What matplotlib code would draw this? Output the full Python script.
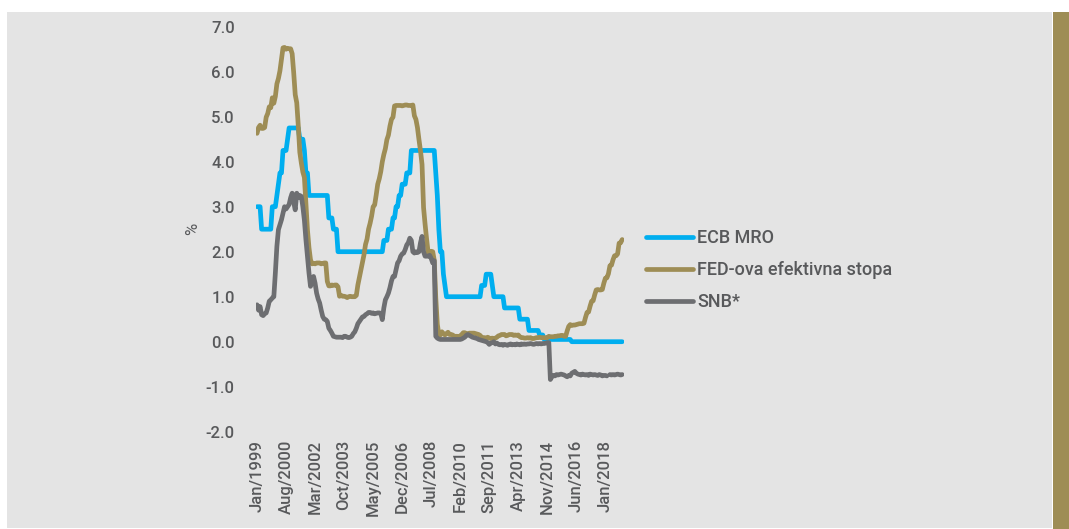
import numpy as np
import matplotlib.pyplot as plt
from matplotlib.patches import Rectangle

# mjesecni podaci, sijecanj 1999 - prosinac 2018
ecb_mro = [
    3.0, 3.0, 3.0, 2.5, 2.5, 2.5, 2.5, 2.5, 2.5, 2.5, 3.0, 3.0,          # 1999
    3.0, 3.25, 3.5, 3.75, 3.75, 4.25, 4.25, 4.25, 4.5, 4.75, 4.75, 4.75,  # 2000
    4.75, 4.75, 4.75, 4.75, 4.5, 4.5, 4.5, 4.25, 3.75, 3.75, 3.25, 3.25,  # 2001
    3.25, 3.25, 3.25, 3.25, 3.25, 3.25, 3.25, 3.25, 3.25, 3.25, 3.25, 2.75,  # 2002
    2.75, 2.75, 2.5, 2.5, 2.5, 2.0, 2.0, 2.0, 2.0, 2.0, 2.0, 2.0,       # 2003
    2.0, 2.0, 2.0, 2.0, 2.0, 2.0, 2.0, 2.0, 2.0, 2.0, 2.0, 2.0,         # 2004
    2.0, 2.0, 2.0, 2.0, 2.0, 2.0, 2.0, 2.0, 2.0, 2.0, 2.0, 2.25,        # 2005
    2.25, 2.25, 2.5, 2.5, 2.5, 2.75, 2.75, 3.0, 3.0, 3.25, 3.25, 3.5,   # 2006
    3.5, 3.5, 3.75, 3.75, 3.75, 4.25, 4.25, 4.25, 4.25, 4.25, 4.25, 4.25,  # 2007
    4.25, 4.25, 4.25, 4.25, 4.25, 4.25, 4.25, 4.25, 4.25, 3.75, 3.25, 2.5,  # 2008
    2.0, 2.0, 1.5, 1.25, 1.0, 1.0, 1.0, 1.0, 1.0, 1.0, 1.0, 1.0,        # 2009
    1.0, 1.0, 1.0, 1.0, 1.0, 1.0, 1.0, 1.0, 1.0, 1.0, 1.0, 1.0,         # 2010
    1.0, 1.0, 1.0, 1.25, 1.25, 1.25, 1.5, 1.5, 1.5, 1.5, 1.25, 1.0,     # 2011
    1.0, 1.0, 1.0, 1.0, 1.0, 1.0, 0.75, 0.75, 0.75, 0.75, 0.75, 0.75,   # 2012
    0.75, 0.75, 0.75, 0.75, 0.5, 0.5, 0.5, 0.5, 0.5, 0.5, 0.25, 0.25,   # 2013
    0.25, 0.25, 0.25, 0.25, 0.25, 0.15, 0.15, 0.15, 0.05, 0.05, 0.05, 0.05,  # 2014
    0.05, 0.05, 0.05, 0.05, 0.05, 0.05, 0.05, 0.05, 0.05, 0.05, 0.05, 0.05,  # 2015
    0.05, 0.05, 0.0, 0.0, 0.0, 0.0, 0.0, 0.0, 0.0, 0.0, 0.0, 0.0,       # 2016
    0.0, 0.0, 0.0, 0.0, 0.0, 0.0, 0.0, 0.0, 0.0, 0.0, 0.0, 0.0,         # 2017
    0.0, 0.0, 0.0, 0.0, 0.0, 0.0, 0.0, 0.0, 0.0, 0.0, 0.0, 0.0,         # 2018
]

fed_stopa = [
    4.63, 4.76, 4.81, 4.74, 4.74, 4.76, 4.99, 5.07, 5.22, 5.20, 5.42, 5.30,
    5.45, 5.73, 5.85, 6.02, 6.27, 6.53, 6.54, 6.50, 6.52, 6.51, 6.51, 6.40,
    5.98, 5.49, 5.31, 4.80, 4.21, 3.97, 3.77, 3.65, 3.07, 2.49, 2.09, 1.82,
    1.73, 1.74, 1.73, 1.75, 1.75, 1.75, 1.73, 1.74, 1.75, 1.75, 1.34, 1.24,
    1.24, 1.26, 1.25, 1.26, 1.26, 1.22, 1.01, 1.03, 1.01, 1.01, 1.00, 0.98,
    1.00, 1.01, 1.00, 1.00, 1.00, 1.03, 1.26, 1.43, 1.61, 1.76, 1.93, 2.16,
    2.28, 2.50, 2.63, 2.79, 3.00, 3.04, 3.26, 3.50, 3.62, 3.78, 4.00, 4.16,
    4.29, 4.49, 4.59, 4.79, 4.94, 4.99, 5.24, 5.25, 5.25, 5.25, 5.25, 5.24,
    5.25, 5.26, 5.26, 5.25, 5.25, 5.25, 5.26, 5.02, 4.94, 4.76, 4.49, 4.24,
    3.94, 2.98, 2.61, 2.28, 1.98, 2.00, 2.01, 2.00, 1.81, 0.97, 0.39, 0.16,
    0.15, 0.22, 0.18, 0.15, 0.18, 0.21, 0.16, 0.16, 0.15, 0.12, 0.12, 0.12,
    0.11, 0.13, 0.16, 0.20, 0.20, 0.18, 0.18, 0.19, 0.19, 0.19, 0.19, 0.18,
    0.17, 0.16, 0.14, 0.10, 0.09, 0.09, 0.07, 0.10, 0.08, 0.07, 0.08, 0.07,
    0.08, 0.10, 0.13, 0.14, 0.16, 0.16, 0.16, 0.13, 0.14, 0.16, 0.16, 0.16,
    0.14, 0.15, 0.14, 0.15, 0.11, 0.09, 0.09, 0.08, 0.08, 0.09, 0.08, 0.09,
    0.07, 0.07, 0.08, 0.09, 0.09, 0.10, 0.09, 0.09, 0.09, 0.09, 0.09, 0.12,
    0.11, 0.11, 0.11, 0.12, 0.12, 0.13, 0.13, 0.14, 0.14, 0.12, 0.12, 0.24,
    0.34, 0.38, 0.36, 0.37, 0.37, 0.38, 0.39, 0.40, 0.40, 0.40, 0.41, 0.54,
    0.65, 0.66, 0.79, 0.90, 0.91, 1.04, 1.15, 1.16, 1.15, 1.15, 1.16, 1.30,
    1.41, 1.42, 1.51, 1.69, 1.70, 1.82, 1.91, 1.91, 1.95, 2.19, 2.20, 2.27,
]

snb = [
    0.82, 0.70, 0.78, 0.60, 0.58, 0.62, 0.64, 0.75, 0.90, 0.93, 0.97, 1.00,
    1.53, 2.12, 2.49, 2.60, 2.71, 2.85, 3.00, 2.95, 3.00, 3.05, 3.20, 3.30,
    3.10, 2.93, 3.30, 3.20, 3.25, 3.23, 3.00, 2.70, 2.27, 1.90, 1.53, 1.23,
    1.40, 1.45, 1.30, 1.08, 0.95, 0.86, 0.70, 0.56, 0.50, 0.49, 0.45, 0.30,
    0.25, 0.19, 0.12, 0.11, 0.10, 0.10, 0.10, 0.10, 0.09, 0.12, 0.12, 0.10,
    0.09, 0.10, 0.12, 0.18, 0.22, 0.30, 0.40, 0.45, 0.50, 0.55, 0.56, 0.60,
    0.62, 0.65, 0.65, 0.63, 0.64, 0.62, 0.63, 0.64, 0.64, 0.63, 0.49, 0.75,
    0.93, 1.00, 1.08, 1.20, 1.35, 1.45, 1.45, 1.60, 1.75, 1.80, 1.90, 1.95,
    1.97, 2.05, 2.15, 2.20, 2.30, 2.25, 2.00, 1.97, 2.00, 1.98, 2.00, 2.20,
    2.34, 2.00, 1.90, 1.90, 1.90, 1.92, 1.85, 1.75, 1.80, 0.12, 0.08, 0.06,
    0.05, 0.05, 0.05, 0.05, 0.05, 0.05, 0.05, 0.05, 0.05, 0.05, 0.05, 0.05,
    0.05, 0.05, 0.06, 0.08, 0.10, 0.14, 0.16, 0.14, 0.12, 0.10, 0.09, 0.08,
    0.07, 0.05, 0.04, 0.03, 0.02, 0.01, 0.00, -0.02, -0.06, -0.03, -0.02, 0.00,
    -0.05, -0.03, -0.06, -0.07, -0.06, -0.08, -0.06, -0.07, -0.08, -0.06, -0.05, -0.07,
    -0.06, -0.07, -0.05, -0.06, -0.07, -0.05, -0.06, -0.05, -0.06, -0.05, -0.05, -0.04,
    -0.05, -0.06, -0.05, -0.04, -0.05, -0.04, -0.05, -0.04, -0.04, -0.03, -0.02, -0.02,
    -0.84, -0.78, -0.75, -0.76, -0.73, -0.74, -0.73, -0.72, -0.73, -0.74, -0.76, -0.78,
    -0.75, -0.76, -0.70, -0.68, -0.66, -0.70, -0.72, -0.73, -0.74, -0.72, -0.73, -0.74,
    -0.73, -0.75, -0.72, -0.73, -0.74, -0.73, -0.74, -0.75, -0.73, -0.74, -0.76, -0.75,
    -0.75, -0.76, np.nan, -0.73, -0.74, -0.73, -0.74, -0.73, -0.72, -0.73, -0.74, -0.73,
]

oznake_x = ['Jan/1999', 'Aug/2000', 'Mar/2002', 'Oct/2003', 'May/2005', 'Dec/2006',
            'Jul/2008', 'Feb/2010', 'Sep/2011', 'Apr/2013', 'Nov/2014', 'Jun/2016',
            'Jan/2018']
korak_oznaka = 19
y_ticks = [-2, -1, 0, 1, 2, 3, 4, 5, 6, 7]

plava = '#00aeef'
zlatna = '#9e8d55'
siva = '#6d6e71'
tekst = '#58595b'

plt.rcParams['font.family'] = ['Roboto', 'DejaVu Sans']
plt.rcParams['font.weight'] = 'medium'

fig = plt.figure(figsize=(10.69, 5.29), dpi=100)
fig.patch.set_facecolor('white')
W, H = 1069, 529
fig.add_artist(Rectangle((7 / W, 1 / H), 1045 / W, 516 / H, transform=fig.transFigure,
                         facecolor='#e4e4e4', edgecolor='none', zorder=-2))
fig.add_artist(Rectangle((1053 / W, 0), 16 / W, 517 / H, transform=fig.transFigure,
                         facecolor='#9e8d55', edgecolor='none', zorder=-2))

ax = fig.add_axes([255.5 / W, (H - 431.7) / H, 368.2 / W, 405 / H])
ax.set_facecolor('none')

x = np.arange(len(ecb_mro))
ax.plot(x, ecb_mro, color=plava, lw=3.4, label='ECB MRO', solid_capstyle='round', solid_joinstyle='round')
ax.plot(x, fed_stopa, color=zlatna, lw=3.4, label='FED-ova efektivna stopa', solid_capstyle='round', solid_joinstyle='round')
ax.plot(x, snb, color=siva, lw=3.4, label='SNB*', solid_capstyle='round', solid_joinstyle='round')

ax.set_xlim(-1, 240)
ax.set_ylim(-2, 7)
ax.set_yticks(y_ticks)
ax.set_yticklabels(['%.1f' % v for v in y_ticks])
ax.set_xticks(np.arange(len(oznake_x)) * korak_oznaka)
ax.set_xticklabels(oznake_x, rotation=90)
ax.tick_params(axis='both', length=0, labelsize=12, labelcolor=tekst)
ax.tick_params(axis='y', pad=15)
ax.tick_params(axis='x', pad=6)
for s in ax.spines.values():
    s.set_visible(False)

ax.set_ylabel('%', color=tekst, fontsize=12, labelpad=4)

ax.legend(loc='upper left', bbox_to_anchor=(646 / W, 1 - 229 / H), bbox_transform=fig.transFigure,
          frameon=False, fontsize=13, labelcolor=tekst, handlelength=2.6, handletextpad=0.25,
          labelspacing=0.78, borderpad=0, borderaxespad=0)

fig.savefig('out.png', dpi=100, facecolor=fig.get_facecolor())
